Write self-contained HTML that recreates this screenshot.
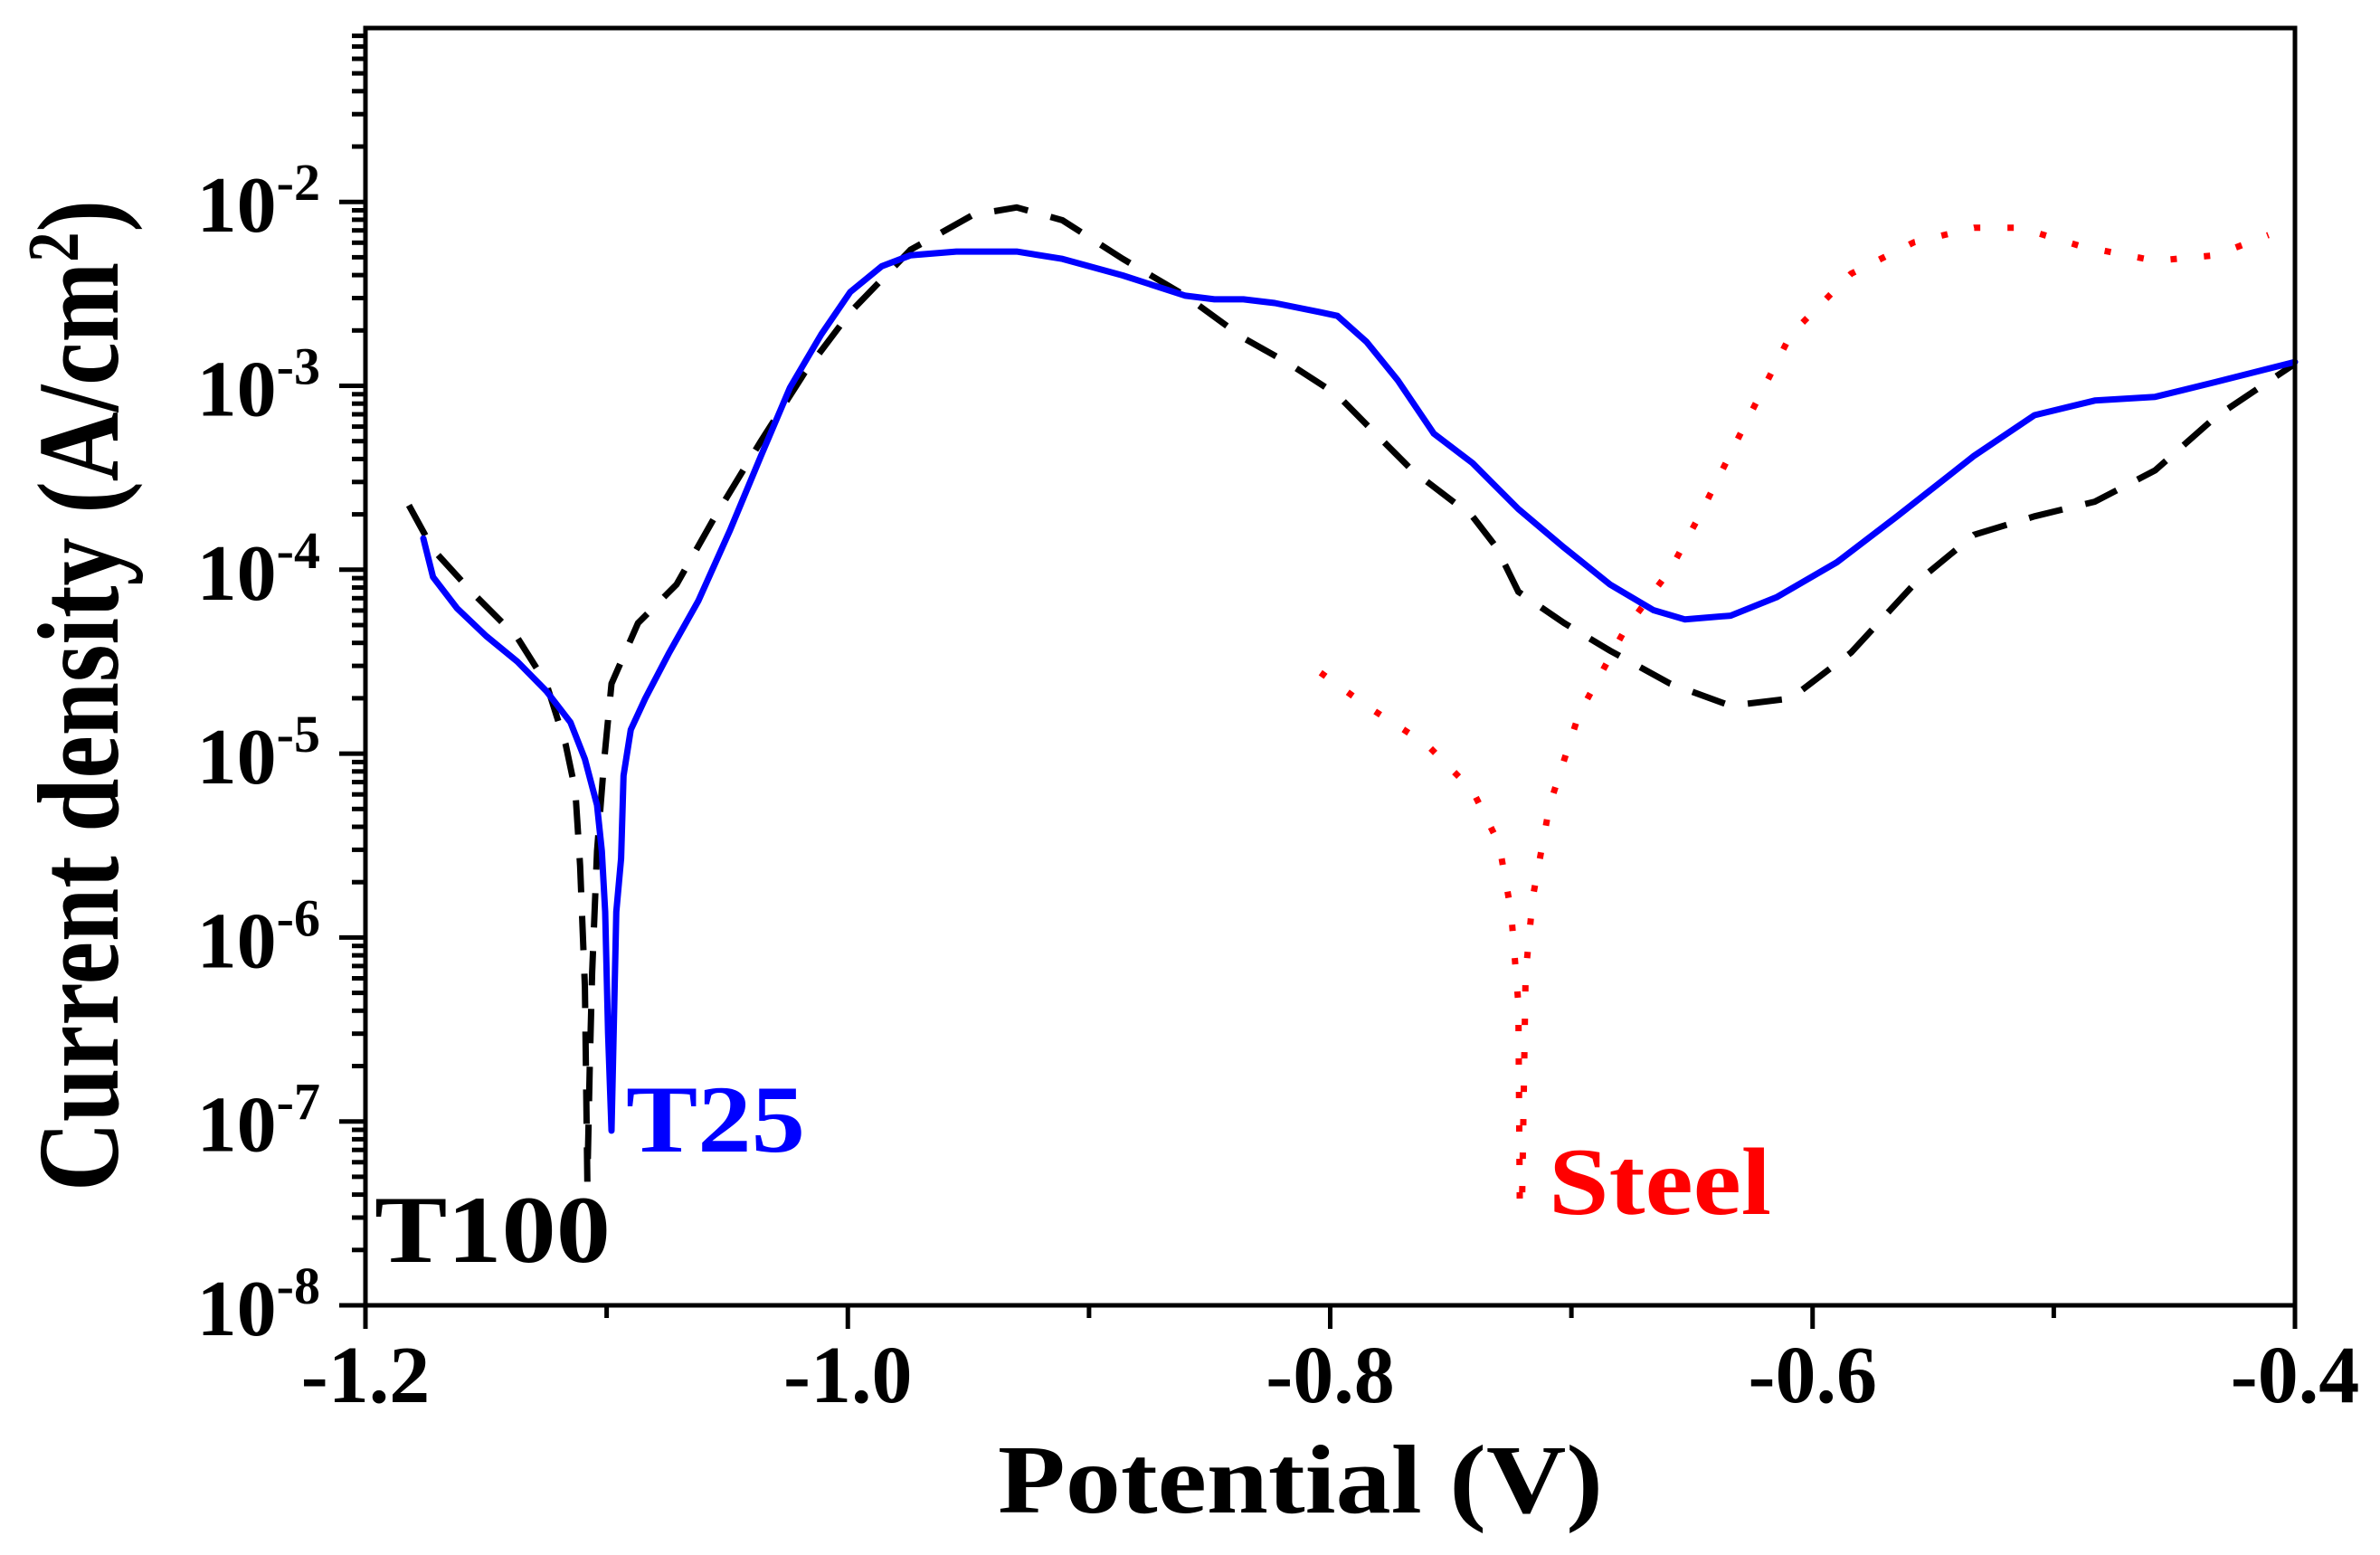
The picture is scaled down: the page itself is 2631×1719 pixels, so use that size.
<!DOCTYPE html>
<html><head><meta charset="utf-8"><style>
html,body{margin:0;padding:0;background:#fff;}
svg{display:block;font-family:"Liberation Serif",serif;font-weight:bold;}
</style></head><body>
<svg id="chart" width="2631" height="1719" viewBox="0 0 2631 1719" xmlns="http://www.w3.org/2000/svg">
<rect width="2631" height="1719" fill="#fff"/>
<g id="ticks"></g>
<g id="series"></g>
<rect x="404" y="31" width="2133" height="1412" fill="none" stroke="#000" stroke-width="5"/>
<text x="1103" y="1672" font-size="108" textLength="669" lengthAdjust="spacingAndGlyphs">Potential (V)</text>
<text transform="translate(130,1317) rotate(-90)" font-size="128" textLength="1096" lengthAdjust="spacingAndGlyphs">Current density (A/cm<tspan baseline-shift="super" font-size="80">2</tspan>)</text>
<text x="692" y="1273" font-size="106" fill="#0000ff" textLength="198" lengthAdjust="spacingAndGlyphs">T25</text>
<text x="414" y="1395" font-size="106" fill="#000" textLength="261" lengthAdjust="spacingAndGlyphs">T100</text>
<text x="1712" y="1342" font-size="106" fill="#ff0000" textLength="246" lengthAdjust="spacingAndGlyphs">Steel</text>
</svg>
<script>
const xTicks = [-1.2, -1.0, -0.8, -0.6, -0.4];
const xTickLabels = ["-1.2", "-1.0", "-0.8", "-0.6", "-0.4"];
const yDecades = [-8, -7, -6, -5, -4, -3, -2];
const yTickLabels = ["-8", "-7", "-6", "-5", "-4", "-3", "-2"];

const t25X = [-1.176,-1.172,-1.162,-1.150,-1.137,-1.125,-1.115,-1.109,-1.104,-1.102,-1.1006,-1.0994,-1.098,-1.096,-1.094,-1.093,-1.090,-1.084,-1.074,-1.062,-1.049,-1.036,-1.024,-1.011,-0.999,-0.986,-0.974,-0.955,-0.930,-0.911,-0.886,-0.860,-0.848,-0.836,-0.823,-0.804,-0.797,-0.785,-0.772,-0.757,-0.741,-0.722,-0.703,-0.684,-0.666,-0.653,-0.634,-0.615,-0.590,-0.565,-0.533,-0.508,-0.483,-0.458,-0.433,-0.400];
const t25LogY = [-3.83,-4.04,-4.21,-4.36,-4.50,-4.66,-4.83,-5.03,-5.28,-5.53,-5.86,-6.52,-7.05,-5.86,-5.57,-5.12,-4.87,-4.70,-4.45,-4.17,-3.79,-3.38,-3.01,-2.72,-2.49,-2.35,-2.29,-2.27,-2.27,-2.31,-2.40,-2.51,-2.53,-2.53,-2.55,-2.60,-2.62,-2.76,-2.97,-3.26,-3.42,-3.67,-3.88,-4.08,-4.22,-4.27,-4.25,-4.15,-3.96,-3.71,-3.38,-3.16,-3.08,-3.06,-2.98,-2.87];

const t100X = [-1.182,-1.172,-1.156,-1.137,-1.125,-1.117,-1.113,-1.111,-1.109,-1.108,-1.107,-1.106,-1.104,-1.101,-1.098,-1.087,-1.071,-1.055,-1.036,-1.018,-0.999,-0.974,-0.948,-0.930,-0.911,-0.886,-0.860,-0.836,-0.817,-0.797,-0.785,-0.766,-0.741,-0.731,-0.722,-0.703,-0.684,-0.659,-0.634,-0.609,-0.584,-0.558,-0.533,-0.508,-0.483,-0.458,-0.433,-0.400];
const t100LogY = [-3.65,-3.89,-4.12,-4.37,-4.62,-4.95,-5.20,-5.61,-6.27,-7.33,-6.69,-6.19,-5.53,-5.03,-4.62,-4.29,-4.08,-3.71,-3.30,-2.93,-2.60,-2.26,-2.07,-2.03,-2.10,-2.31,-2.51,-2.74,-2.88,-3.05,-3.21,-3.46,-3.71,-3.88,-4.12,-4.29,-4.44,-4.62,-4.74,-4.70,-4.45,-4.08,-3.81,-3.71,-3.63,-3.46,-3.17,-2.88];

const steelX = [-0.804,-0.785,-0.760,-0.741,-0.730,-0.725,-0.722,-0.7214,-0.7205,-0.719,-0.716,-0.709,-0.697,-0.678,-0.659,-0.647,-0.628,-0.609,-0.584,-0.558,-0.533,-0.514,-0.489,-0.458,-0.433,-0.411];
const steelLogY = [-4.56,-4.74,-4.95,-5.20,-5.49,-5.86,-6.36,-7.47,-7.47,-6.20,-5.78,-5.28,-4.79,-4.33,-4.00,-3.71,-3.21,-2.72,-2.39,-2.22,-2.14,-2.14,-2.24,-2.32,-2.29,-2.18];

const NS = "http://www.w3.org/2000/svg";
const X0 = 404, XW = 2133, YB = 1443, DEC = 203.3;
function xs(v){ return X0 + (v + 1.2) / 0.8 * XW; }
function ys(lg){ return YB - (lg + 8) * DEC; }
const ticks = document.getElementById('ticks');
const series = document.getElementById('series');
function mk(tag, attrs, parent){ const e = document.createElementNS(NS, tag); for (const k in attrs) e.setAttribute(k, attrs[k]); parent.appendChild(e); return e; }

for (let i = 0; i < 9; i++) {
  const v = -1.2 + i * 0.1, px = xs(v), major = i % 2 === 0;
  const t = mk('line', {x1: px, x2: px, y1: YB, y2: YB + (major ? 26 : 14), stroke: '#000', 'stroke-width': 5}, ticks);
  
  
}
xTicks.forEach((v, i) => {
  const t = mk('text', {x: xs(v), y: 1550, 'font-size': 90, 'text-anchor': 'middle'}, ticks);
  t.textContent = xTickLabels[i];
  
  
});
const topLg = (YB - 31) / DEC - 8;
yDecades.forEach((d, i) => {
  const py = ys(d);
  const t = mk('line', {x1: X0 - 29, x2: X0, y1: py, y2: py, stroke: '#000', 'stroke-width': 5}, ticks);
  
  
  const lab = mk('text', {x: 354, y: py + 33, 'font-size': 88, 'text-anchor': 'end'}, ticks);
  
  
  const a = document.createElementNS(NS, 'tspan'); a.textContent = '10'; lab.appendChild(a);
  const b = document.createElementNS(NS, 'tspan'); b.setAttribute('font-size', '58'); b.setAttribute('dy', '-35'); b.textContent = yTickLabels[i]; lab.appendChild(b);
});
for (let d = -8; d <= -2; d++) {
  for (let m = 2; m <= 9; m++) {
    const lg = d + Math.log10(m);
    if (lg > topLg) continue;
    const py = ys(lg);
    const t = mk('line', {x1: X0 - 15, x2: X0, y1: py, y2: py, stroke: '#000', 'stroke-width': 5}, ticks);
    
    
  }
}
function path(xa, ya){ return xa.map((v, i) => (i ? 'L' : 'M') + xs(v).toFixed(1) + ',' + ys(ya[i]).toFixed(1)).join(' '); }
const p1 = mk('path', {d: path(steelX, steelLogY), fill: 'none', stroke: '#ff0000', 'stroke-width': 7, 'stroke-dasharray': '7 30'}, series);


const p2 = mk('path', {d: path(t100X, t100LogY), fill: 'none', stroke: '#000', 'stroke-width': 7, 'stroke-dasharray': '38 26'}, series);


const p3 = mk('path', {d: path(t25X, t25LogY), fill: 'none', stroke: '#0000ff', 'stroke-width': 7, 'stroke-linejoin': 'round', 'stroke-linecap': 'round'}, series);


</script>
</body></html>
